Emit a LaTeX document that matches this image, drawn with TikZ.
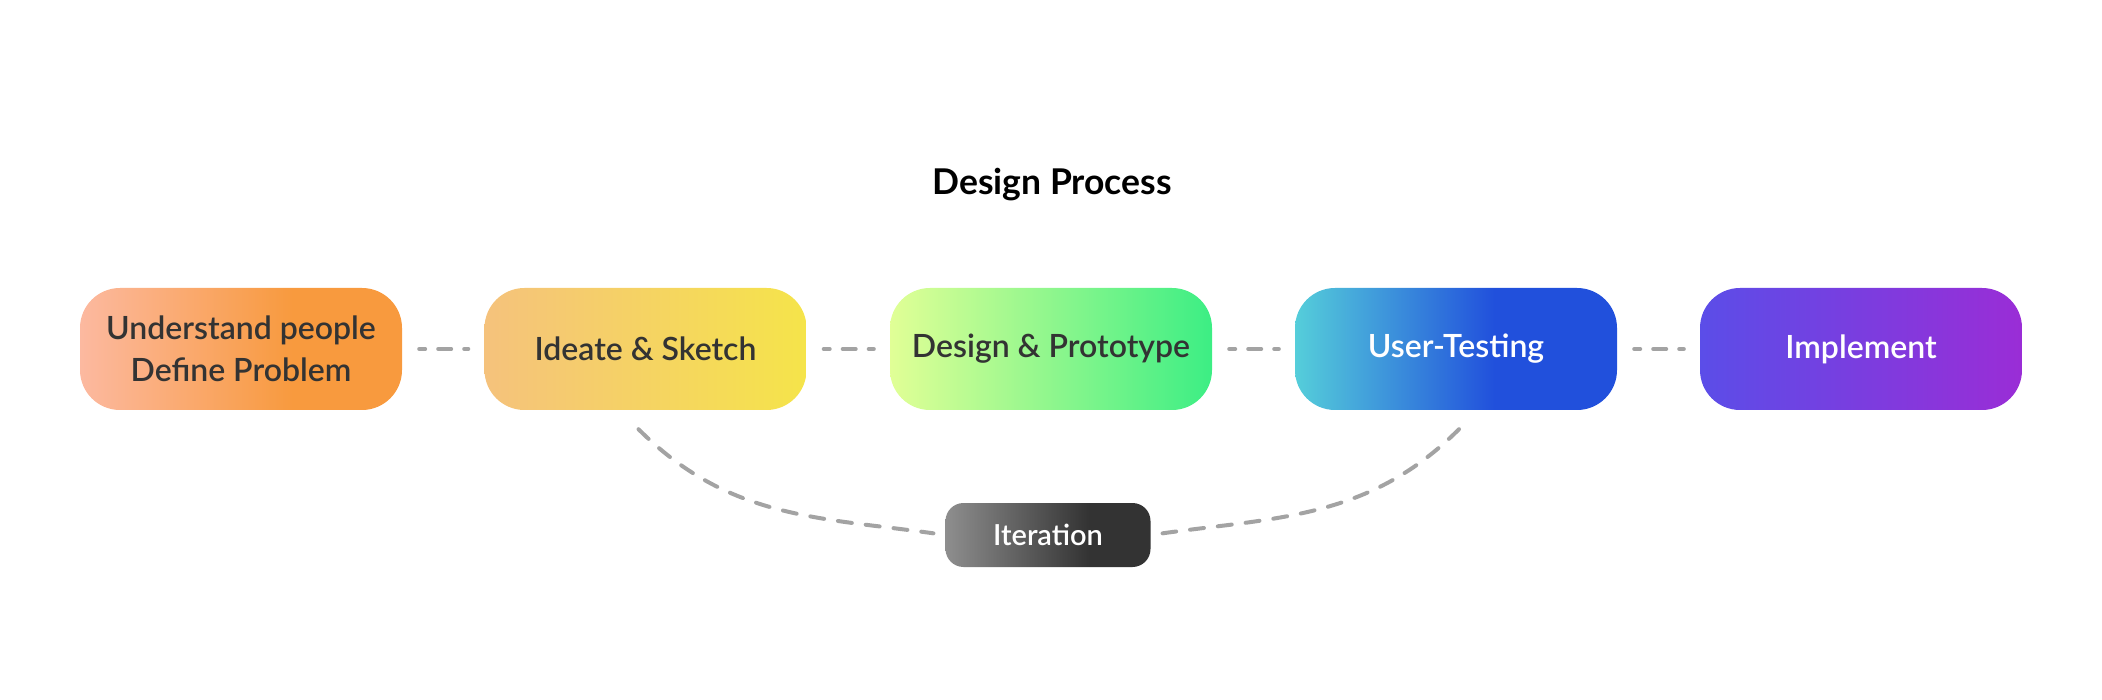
\documentclass[tikz,border=0pt]{standalone}
\usepackage{fontspec}
\setmainfont{Lato}
\newfontfamily\semib{Lato Semibold}
\usetikzlibrary{calc}
\definecolor{txtdark}{HTML}{333333}
\definecolor{dashgray}{HTML}{A3A3A3}
\definecolor{ca}{HTML}{FCB9A0}\definecolor{cb}{HTML}{F89A3E}
\definecolor{da}{HTML}{F5C27C}\definecolor{db}{HTML}{F5E44A}
\definecolor{ea}{HTML}{E1FF96}\definecolor{eb}{HTML}{3CEE84}
\definecolor{fa}{HTML}{55CEDA}\definecolor{fb}{HTML}{2150DC}
\definecolor{ga}{HTML}{5B4DE8}\definecolor{gb}{HTML}{9A2DD6}
\definecolor{ha}{HTML}{8E8E8E}\definecolor{hb}{HTML}{333333}
\pgfdeclarehorizontalshading{shA}{100bp}{color(0bp)=(ca); color(25bp)=(ca); color(58bp)=(cb); color(75bp)=(cb); color(100bp)=(cb)}
\pgfdeclarehorizontalshading{shB}{100bp}{color(0bp)=(da); color(25bp)=(da); color(75bp)=(db); color(100bp)=(db)}
\pgfdeclarehorizontalshading{shC}{100bp}{color(0bp)=(ea); color(25bp)=(ea); color(75bp)=(eb); color(100bp)=(eb)}
\pgfdeclarehorizontalshading{shD}{100bp}{color(0bp)=(fa); color(25bp)=(fa); color(56bp)=(fb); color(75bp)=(fb); color(100bp)=(fb)}
\pgfdeclarehorizontalshading{shE}{100bp}{color(0bp)=(ga); color(25bp)=(ga); color(75bp)=(gb); color(100bp)=(gb)}
\pgfdeclarehorizontalshading{shF}{100bp}{color(0bp)=(ha); color(25bp)=(ha); color(60bp)=(hb); color(75bp)=(hb); color(100bp)=(hb)}
\begin{document}
\begin{tikzpicture}[x=1pt,y=-1pt,
  stagebox/.style={rectangle, rounded corners=40pt, minimum width=322pt, minimum height=122pt,
    inner sep=0pt, align=center, font=\semib\fontsize{32}{42}\selectfont, text=txtdark},
  iterbox/.style={rectangle, rounded corners=18pt, minimum width=205pt, minimum height=64pt,
    inner sep=0pt, font=\semib\fontsize{29}{36}\selectfont, text=white, shading=shF},
  link/.style={draw=dashgray, line width=4pt, line cap=round, dash pattern=on 13pt off 13pt},
  curvelink/.style={draw=dashgray, line width=4pt, line cap=round, dash pattern=on 14pt off 14pt},
  titletext/.style={font=\bfseries\fontsize{35.5}{42}\selectfont, text=black}
]
\useasboundingbox (0,0) rectangle (2102,700);
\node[titletext, anchor=base] (title) at (1052,195) {Design Process};
\node[stagebox, shading=shA] (s1) at (241,349) {Understand people\\Define Problem};
\node[stagebox, shading=shB] (s2) at (645.5,349) {Ideate \& Sketch};
\node[stagebox, shading=shC] (s3) at (1051,349) {Design \& Prototype};
\node[stagebox, shading=shD, text=white] (s4) at (1456,349) {User-Testing};
\node[stagebox, shading=shE, text=white] (s5) at (1861,349) {Implement};
\node[iterbox] (it) at (1048,535) {Iteration};
\foreach \a/\b in {s1/s2, s2/s3, s3/s4, s4/s5}
  \draw[link, dash phase=7pt, shorten <=17pt, shorten >=16pt] (\a.east) -- (\b.west);
\coordinate (l0) at ($(s2.south)+(-7,19)$);
\coordinate (r0) at ($(s4.south)+(3,19)$);
\draw[curvelink, shorten >=12pt] (l0) to[out=-45, in=172] (it.west);
\draw[curvelink, shorten >=12pt] (r0) to[out=-135, in=8] (it.east);
\end{tikzpicture}
\end{document}
